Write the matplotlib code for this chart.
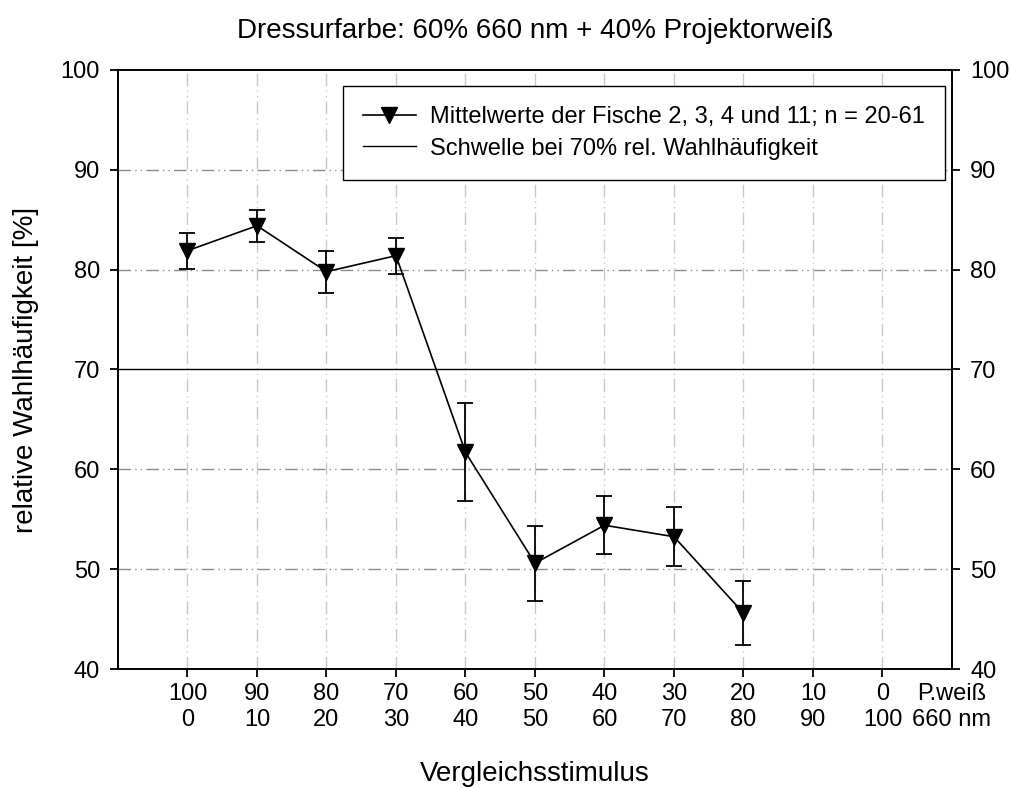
import matplotlib.pyplot as plt
from matplotlib.lines import Line2D

plt.rcParams['font.family'] = ['Liberation Sans', 'DejaVu Sans']

# Anteil Projektorweiß (oben) / 660 nm (unten) des Vergleichsstimulus
weiss = [100, 90, 80, 70, 60, 50, 40, 30, 20, 10, 0]
rot = [0, 10, 20, 30, 40, 50, 60, 70, 80, 90, 100]
tick_labels = [f"{w}\n{r}" for w, r in zip(weiss, rot)] + ["P.weiß\n660 nm"]

# Mittelwerte der Fische 2, 3, 4 und 11
stim = [100, 90, 80, 70, 60, 50, 40, 30, 20]
mittel = [81.9, 84.4, 79.8, 81.4, 61.7, 50.6, 54.4, 53.25, 45.6]
fehler = [1.8, 1.6, 2.1, 1.8, 4.9, 3.75, 2.9, 2.95, 3.2]
schwelle = 70

fig = plt.figure(figsize=(10.12, 7.88), dpi=100)
ax = fig.add_axes([0.1166, 0.151, 0.8241, 0.7602])

dash_dot_dot = (0, (9, 3, 1, 3, 1, 3))
for y in [50, 60, 80, 90]:
    ax.axhline(y, color='#8c8c8c', lw=1.0, ls=dash_dot_dot, zorder=0)
for x in weiss:
    ax.axvline(x, color='#c8c8c8', lw=1.0, ls=dash_dot_dot, zorder=0)

ax.errorbar(stim, mittel, yerr=fehler, color='black', lw=1.2,
            marker='v', markersize=11.5, capsize=6, capthick=1.3,
            elinewidth=1.3, zorder=3)
ax.axhline(schwelle, color='black', lw=1.0, zorder=2)

ax.set_xlim(110, -10)
ax.set_ylim(40, 100)
ax.set_xticks(weiss + [-10])
ax.set_xticklabels(tick_labels, fontsize=17, linespacing=1.24)
ax.xaxis.get_major_ticks()[-1].tick1line.set_visible(False)
ax.set_yticks(range(40, 101, 10))
ax.tick_params(axis='y', labelsize=17, right=True, labelright=True,
               direction='out', length=6, width=1.3, pad=7)
ax.tick_params(axis='x', direction='out', length=6, width=1.3, pad=4)
for s in ax.spines.values():
    s.set_linewidth(1.4)

ax.set_title("Dressurfarbe: 60% 660 nm + 40% Projektorweiß", fontsize=20, pad=23)
ax.set_xlabel("Vergleichsstimulus", fontsize=20)
ax.set_ylabel("relative Wahlhäufigkeit [%]", fontsize=20)
ax.xaxis.set_label_coords(0.5, -0.154)
ax.yaxis.set_label_coords(-0.095, 0.5)

handles = [
    Line2D([], [], color='black', lw=1.2, marker='v', markersize=11.5),
    Line2D([], [], color='black', lw=1.0),
]
labels = ['Mittelwerte der Fische 2, 3, 4 und 11; n = 20-61',
          'Schwelle bei 70% rel. Wahlhäufigkeit']
leg = ax.legend(handles, labels, loc='upper right', fontsize=17,
                frameon=True, fancybox=False, edgecolor='black',
                framealpha=1, handlelength=2.25, handletextpad=0.6,
                borderpad=0.85, labelspacing=0.41,
                bbox_to_anchor=(0.9916, 0.9733), borderaxespad=0)
leg.get_frame().set_linewidth(1.0)

fig.savefig('out.png', dpi=100)
